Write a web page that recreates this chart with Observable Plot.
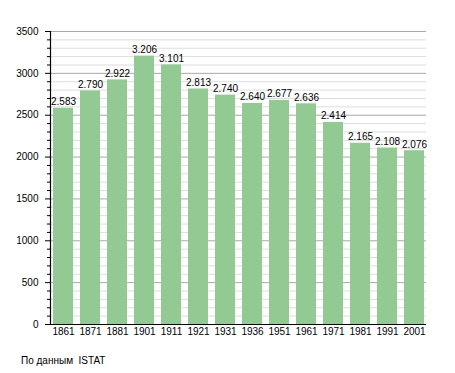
<!DOCTYPE html>
<html>
<head>
<meta charset="utf-8">
<script src="https://cdn.jsdelivr.net/npm/d3@7"></script>
<script src="https://cdn.jsdelivr.net/npm/@observablehq/plot@0.6"></script>
<style>
  body { margin: 0; background: #fff; font-family: "Liberation Sans", Arial, sans-serif; }
  #caption { font-size: 10px; line-height: 12px; padding: 10px 0 0 21px; color: #000; }
</style>
</head>
<body>
<div id="chart"></div>
<div id="caption">По данным&nbsp; ISTAT</div>
<script>
const years = ["1861","1871","1881","1901","1911","1921","1931","1936","1951","1961","1971","1981","1991","2001"];
const population = [2583, 2790, 2922, 3206, 3101, 2813, 2740, 2640, 2677, 2636, 2414, 2165, 2108, 2076];
const majorTicks = [0, 500, 1000, 1500, 2000, 2500, 3000, 3500];
const minorTicks = d3.range(0, 3501, 100).filter(v => v % 500 !== 0);

const data = years.map((y, i) => ({year: y, value: population[i]}));
const fmt = d3.formatLocale({decimal: ",", thousands: ".", grouping: [3], currency: ["", ""]}).format(",");

const chart = Plot.plot({
  width: 455,
  height: 345,
  marginTop: 31,
  marginBottom: 21,
  marginLeft: 50,
  marginRight: 29,
  style: {fontFamily: "'Liberation Sans', Arial, sans-serif", fontSize: "10px", color: "#000", background: "#fff"},
  x: {type: "band", domain: years, paddingInner: 0.26, paddingOuter: 0.04, label: null},
  y: {domain: [0, 3500], label: null},
  marks: [
    Plot.ruleY(minorTicks, {stroke: "#dddddd", strokeWidth: 1}),
    Plot.ruleY(majorTicks.filter(v => v > 0), {stroke: "#a8a8a8", strokeWidth: 1}),
    Plot.barY(data, {x: "year", y: "value", fill: "#93c993"}),
    Plot.text(data, {x: "year", y: "value", text: d => fmt(d.value), lineAnchor: "bottom", dy: -3, fill: "#000", fontSize: 10}),
    Plot.axisY({ticks: minorTicks, tickSize: 3, tickFormat: () => ""}),
    Plot.axisY({ticks: majorTicks, tickSize: 5, tickPadding: 7, tickFormat: d => String(d), fontSize: 10}),
    Plot.axisX({tickSize: 0, tickPadding: 3, fontSize: 10}),
    Plot.ruleY([0], {stroke: "#000", strokeWidth: 1.2}),
    Plot.frame({anchor: "left", stroke: "#000", strokeWidth: 1.2})
  ]
});
document.getElementById("chart").appendChild(chart);
</script>
</body>
</html>
